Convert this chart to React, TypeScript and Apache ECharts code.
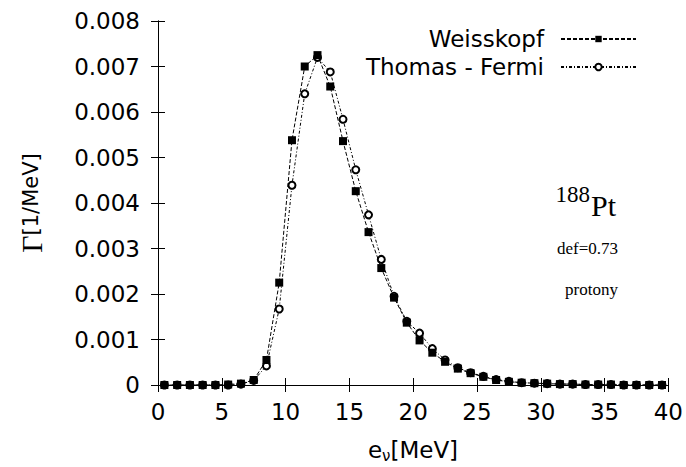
import React, { useEffect, useRef } from 'react';
import * as echarts from 'echarts';

const energies = [
  0.5, 1.5, 2.5, 3.5, 4.5, 5.5, 6.5, 7.5, 8.5, 9.5,
  10.5, 11.5, 12.5, 13.5, 14.5, 15.5, 16.5, 17.5, 18.5, 19.5,
  20.5, 21.5, 22.5, 23.5, 24.5, 25.5, 26.5, 27.5, 28.5, 29.5,
  30.5, 31.5, 32.5, 33.5, 34.5, 35.5, 36.5, 37.5, 38.5, 39.5,
];

const weisskopf = [
  0, 0, 0, 0, 0, 0.00001, 0.00003, 0.00011, 0.00055, 0.00225,
  0.00538, 0.0070, 0.00725, 0.00656, 0.00536, 0.00426, 0.00336, 0.00257, 0.00192, 0.00137,
  0.00098, 0.00071, 0.00051, 0.00036, 0.00026, 0.00018, 0.00011, 0.00007, 0.00005, 0.00004,
  0.00003, 0.00002, 0.00002, 0.00001, 0.00001, 0.00001, 0, 0, 0, 0,
];

const thomasFermi = [
  0, 0, 0, 0, 0, 0, 0.00002, 0.0001, 0.00042, 0.00167,
  0.00439, 0.0064, 0.0072, 0.00688, 0.00584, 0.00473, 0.00374, 0.00276, 0.00195, 0.0014,
  0.00114, 0.0008, 0.00055, 0.00038, 0.00027, 0.00019, 0.00012, 0.00008, 0.00005, 0.00004,
  0.00003, 0.00002, 0.00002, 0.00001, 0.00001, 0.00001, 0, 0, 0, 0,
];

const xRange = { min: 0, max: 40, interval: 5 };
const yRange = { min: 0, max: 0.008, interval: 0.001 };

const SANS = 'DejaVu Sans';
const SERIF = 'Liberation Serif';

export default function App() {
  const ref = useRef<HTMLDivElement>(null);

  useEffect(() => {
    if (!ref.current) return;
    const chart = echarts.init(ref.current, null, { renderer: 'svg' });

    const axisCommon = {
      axisLine: { show: true, lineStyle: { color: '#000', width: 1 } },
      axisTick: { show: true, inside: true, length: 7, lineStyle: { color: '#000', width: 1 } },
      splitLine: { show: false },
    };

    const legendCommon = {
      orient: 'vertical' as const,
      align: 'right' as const,
      right: 49,
      padding: 0,
      itemWidth: 75,
      itemHeight: 8,
      textStyle: { fontFamily: SANS, fontSize: 23, color: '#000', lineHeight: 24, padding: [0, 12, 0, 0] },
    };

    chart.setOption({
      animation: false,
      backgroundColor: '#fff',
      grid: { left: 158, right: 16, top: 21, bottom: 82, containLabel: false },
      legend: [
        { ...legendCommon, top: 27, data: ['Weisskopf'] },
        { ...legendCommon, top: 55, data: ['Thomas - Fermi'] },
      ],
      xAxis: [
        {
          type: 'value',
          ...xRange,
          position: 'bottom',
          ...axisCommon,
          axisLabel: { fontFamily: SANS, fontSize: 23, color: '#000', margin: 15 },
        },
        {
          type: 'value',
          ...xRange,
          position: 'top',
          ...axisCommon,
          axisLabel: { show: false },
        },
      ],
      yAxis: [
        {
          type: 'value',
          ...yRange,
          position: 'left',
          ...axisCommon,
          axisLabel: {
            fontFamily: SANS,
            fontSize: 23,
            color: '#000',
            margin: 18,
            formatter: (v: number) => (v === 0 ? '0' : v.toFixed(3)),
          },
        },
        {
          type: 'value',
          ...yRange,
          position: 'right',
          ...axisCommon,
          axisLabel: { show: false },
        },
      ],
      series: [
        {
          name: 'Thomas - Fermi',
          type: 'line',
          data: energies.map((x, i) => [x, thomasFermi[i]]),
          symbol: 'emptyCircle',
          symbolSize: 7,
          z: 2,
          lineStyle: { color: '#000', width: 1, type: [3, 2, 1, 2] },
          itemStyle: { color: '#000', borderColor: '#000', borderWidth: 1 },
        },
        {
          name: 'Weisskopf',
          type: 'line',
          data: energies.map((x, i) => [x, weisskopf[i]]),
          symbol: 'rect',
          symbolSize: 8,
          z: 3,
          lineStyle: { color: '#000', width: 1, type: [4, 2] },
          itemStyle: { color: '#000' },
        },
      ],
      graphic: [
        {
          type: 'text',
          x: 413,
          y: 438,
          style: {
            text: '{m|e}{s|ν}{m|[MeV]}',
            align: 'center',
            verticalAlign: 'top',
            rich: {
              m: { fontFamily: SANS, fontSize: 23, lineHeight: 26, verticalAlign: 'top', fill: '#000' },
              s: { fontFamily: SANS, fontSize: 15, lineHeight: 15, verticalAlign: 'top', padding: [10, 0, 0, 0], fill: '#000' },
            },
          },
        },
        {
          type: 'text',
          x: 31,
          y: 203,
          rotation: Math.PI / 2,
          style: {
            text: '{g|Γ}{m|[1/MeV]}',
            align: 'center',
            verticalAlign: 'middle',
            rich: {
              g: { fontFamily: SERIF, fontSize: 30, fill: '#000' },
              m: { fontFamily: SANS, fontSize: 21, fill: '#000' },
            },
          },
        },
        {
          type: 'text',
          x: 590,
          y: 194.5,
          style: { text: '188', align: 'right', verticalAlign: 'middle', fontFamily: SERIF, fontSize: 23, fill: '#000' },
        },
        {
          type: 'text',
          x: 591,
          y: 205.5,
          style: { text: 'Pt', align: 'left', verticalAlign: 'middle', fontFamily: SERIF, fontSize: 30, fill: '#000' },
        },
        {
          type: 'text',
          x: 618,
          y: 248.5,
          style: { text: 'def=0.73', align: 'right', verticalAlign: 'middle', fontFamily: SERIF, fontSize: 17, fill: '#000' },
        },
        {
          type: 'text',
          x: 618,
          y: 289.5,
          style: { text: 'protony', align: 'right', verticalAlign: 'middle', fontFamily: SERIF, fontSize: 17, fill: '#000' },
        },
      ],
    });

    return () => chart.dispose();
  }, []);

  return <div ref={ref} style={{ width: 686, height: 467, position: 'absolute', left: 0, top: 0 }} />;
}
